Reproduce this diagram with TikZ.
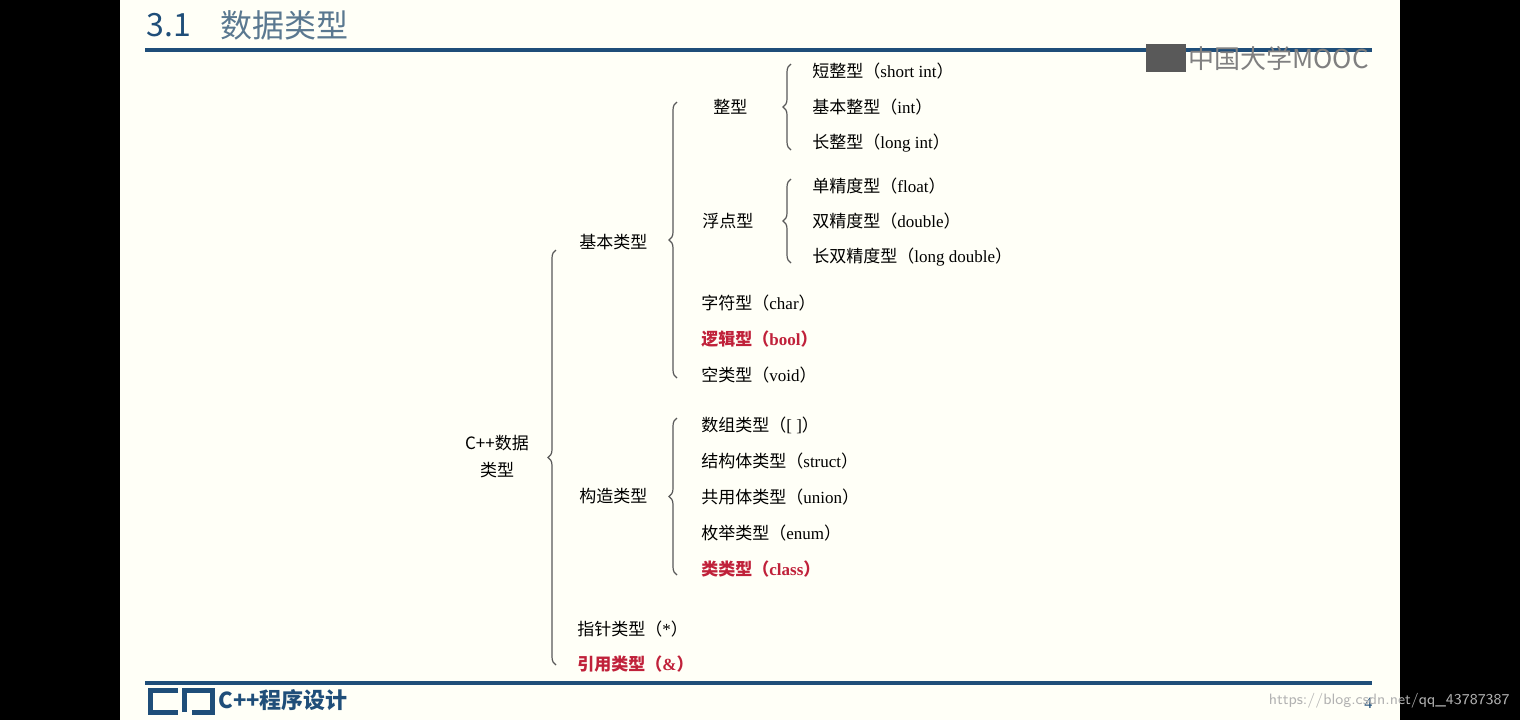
\documentclass[tikz,border=0pt]{standalone}
\usepackage{fontspec}
\setmainfont{Liberation Serif}
\newfontfamily\cjk{Noto Sans CJK SC}
\newcommand{\zh}[1]{{\cjk #1}}
\usetikzlibrary{decorations.pathreplacing}
\definecolor{slideblue}{HTML}{1F4E79}
\definecolor{titlegray}{HTML}{5A7890}
\definecolor{keyred}{HTML}{C0213A}
\begin{document}
\begin{tikzpicture}[x=0.5pt,y=-0.5pt,
    item/.style={anchor=west,inner sep=0pt,font=\fontsize{8.5}{10}\selectfont},
    hot/.style={item,text=keyred,font=\fontsize{8.5}{10}\selectfont\bfseries},
    curly/.style={decorate,decoration={brace,amplitude=4pt},line width=0.6pt,gray!70!black}]
    % slide and black margins
    \fill[black] (0,0) rectangle (1520,720);
    \fill[white!97!yellow] (120,0) rectangle (1400,720);
    \useasboundingbox (0,0) rectangle (1520,720);

    % title and rules
    \node[anchor=west,inner sep=0pt,text=slideblue,font=\cjk\fontsize{16}{18}\selectfont] (num) at (146,25) {3.1};
    \node[anchor=west,inner sep=0pt,text=titlegray,font=\cjk\fontsize{16}{18}\selectfont] (title) at (220,25) {数据类型};
    \draw[slideblue,line width=2pt] (145,50) -- (1372,50);
    \draw[slideblue,line width=2pt] (145,683) -- (1372,683);
    \fill[gray!70!black] (1146,44) rectangle (1186,72);
    \node[anchor=west,inner sep=0pt,text=gray,font=\cjk\fontsize{13}{15}\selectfont] (mooc) at (1188,58) {中国大学MOOC};

    % footer
    \draw[slideblue,line width=2.5pt] (178,690) -- (150,690) -- (150,712) -- (178,712)
                                      (184,712) -- (184,690) -- (212,690) -- (212,712) -- (192,712);
    \node[anchor=west,inner sep=0pt,text=slideblue,font=\cjk\fontsize{11}{13}\selectfont\bfseries] (course) at (218,700) {C++程序设计};
    \node[anchor=west,inner sep=0pt,text=slideblue,font=\fontsize{8}{9}\selectfont] (page) at (1364,703) {4};
    \node[anchor=east,inner sep=0pt,text=gray!60,font=\fontsize{7.5}{9}\sffamily] (mark) at (1510,701) {https://blog.csdn.net/qq\_43787387};

    % tree
    \node[align=center,inner sep=0pt,font=\cjk\fontsize{8.5}{13.5}\selectfont] (root) at (497,457) {C++数据\\类型};
    \node[item] (basic) at (579,242) {\zh{基本类型}};
    \node[item] (int) at (713,107) {\zh{整型}};
    \node[item] (short) at (812,71) {\zh{短整型（}short int\zh{）}};
    \node[item] (plain) at (812,107) {\zh{基本整型（}int\zh{）}};
    \node[item] (long) at (812,143) {\zh{长整型（}long int\zh{）}};
    \node[item] (real) at (702,221) {\zh{浮点型}};
    \node[item] (float) at (812,186) {\zh{单精度型（}float\zh{）}};
    \node[item] (double) at (812,221) {\zh{双精度型（}double\zh{）}};
    \node[item] (ldouble) at (812,257) {\zh{长双精度型（}long double\zh{）}};
    \node[item] (char) at (701,303) {\zh{字符型（}char\zh{）}};
    \node[hot] (bool) at (701,339) {\zh{逻辑型（}bool\zh{）}};
    \node[item] (void) at (701,375) {\zh{空类型（}void\zh{）}};
    \node[item] (built) at (579,496) {\zh{构造类型}};
    \node[item] (array) at (701,425) {\zh{数组类型（}[ ]\zh{）}};
    \node[item] (struct) at (701,461) {\zh{结构体类型（}struct\zh{）}};
    \node[item] (union) at (701,497) {\zh{共用体类型（}union\zh{）}};
    \node[item] (enum) at (701,533) {\zh{枚举类型（}enum\zh{）}};
    \node[hot] (class) at (701,569) {\zh{类类型（}class\zh{）}};
    \node[item] (ptr) at (577,629) {\zh{指针类型（}*\zh{）}};
    \node[hot] (ref) at (577,664) {\zh{引用类型（}\&\zh{）}};

    % braces
    \draw[curly] (556,665) -- (556,250);
    \draw[curly] (677,378) -- (677,102);
    \draw[curly] (791,150) -- (791,64);
    \draw[curly] (791,263) -- (791,179);
    \draw[curly] (677,575) -- (677,418);
\end{tikzpicture}
\end{document}
